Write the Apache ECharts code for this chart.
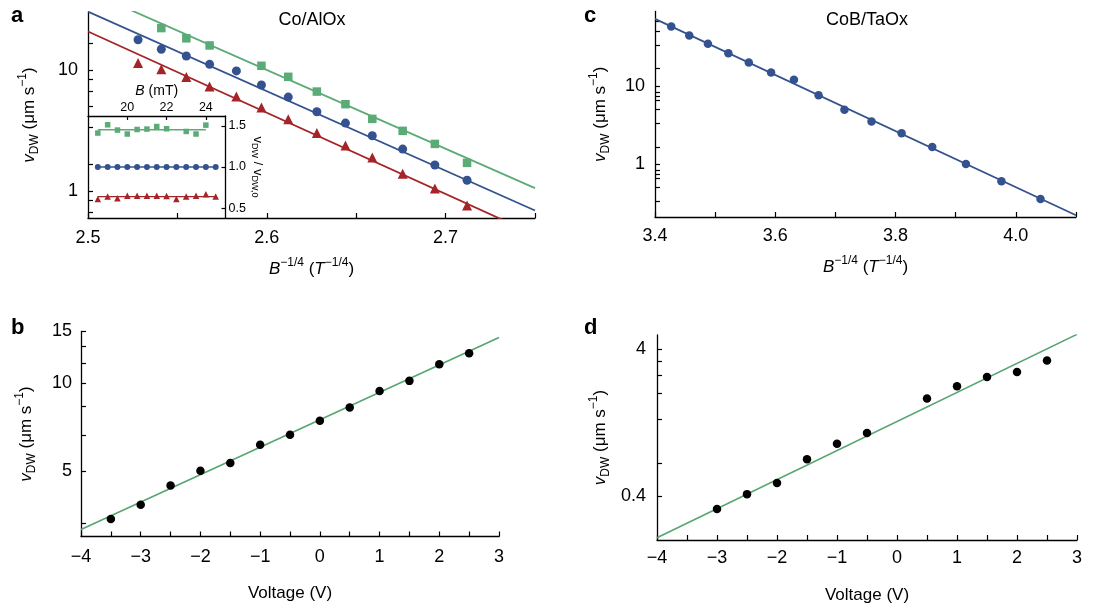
<!DOCTYPE html>
<html><head><meta charset="utf-8">
<script src="https://cdn.jsdelivr.net/npm/echarts@6/dist/echarts.min.js"></script>
<style>html,body{margin:0;padding:0;background:#fff}#c{width:1115px;height:610px}</style>
</head><body><div id="c"></div><script>
// ---------- Panel a : Co/AlOx (x = B^-1/4, y = v_DW, log) ----------
const aX       = [2.528, 2.541, 2.555, 2.568, 2.583, 2.597, 2.612, 2.628, 2.644, 2.659, 2.676, 2.694, 2.712];
const aBlue    = [17.7, 14.8, 13.0, 11.1, 9.8, 7.5, 5.96, 4.51, 3.64, 2.86, 2.22, 1.64, 1.23];
const aGreenX  = [2.541, 2.555, 2.568, 2.597, 2.612, 2.628, 2.644, 2.659, 2.676, 2.694, 2.712];
const aGreen   = [22.1, 18.2, 15.9, 10.8, 8.76, 6.62, 5.21, 3.94, 3.14, 2.45, 1.71];
const aRed     = [11.4, 10.1, 8.71, 7.28, 6.03, 4.89, 3.92, 3.01, 2.38, 1.89, 1.39, 1.05, 0.761];
const aFitX    = [2.5, 2.75];
const aFitBlue = [30.2, 0.692];
const aFitGreen= [44.5, 1.058];
const aFitRed  = [20.7, 0.438];
const aXTicks  = [2.5, 2.55, 2.6, 2.65, 2.7, 2.75];
const aXLabels = [2.5, 2.6, 2.7];
const aYTicks  = [0.6667, 0.8333, 1, 1.6667, 3.3333, 5, 6.6667, 8.3333, 10, 16.667];
const aYLabels = [1, 10];

// ---------- Inset of a : v_DW / v_DW,0 versus B (mT) ----------
const insB       = [18.5, 19, 19.5, 20, 20.5, 21, 21.5, 22, 22.5, 23, 23.5, 24, 24.5];
const insGreenB  = [18.5, 19, 19.5, 20, 20.5, 21, 21.5, 22, 23, 23.5, 24];
const insGreen   = [1.413, 1.513, 1.449, 1.401, 1.456, 1.461, 1.492, 1.465, 1.432, 1.401, 1.509];
const insBlue    = [1, 1, 1, 1, 1, 1, 1, 1, 1, 1, 1, 1, 1];
const insRed     = [0.612, 0.640, 0.621, 0.652, 0.652, 0.652, 0.652, 0.648, 0.612, 0.640, 0.652, 0.669, 0.640];
const insFitGreenB = [18.5, 24];   const insFitGreen = [1.453, 1.453];
const insFitB      = [18.5, 24.5]; const insFitBlue  = [1.0, 1.0];
const insFitRed    = [0.640, 0.640];
const insXTicks  = [20, 22, 24];
const insYTicks  = [0.5, 1.0, 1.5];

// ---------- Panel c : CoB/TaOx ----------
const cX     = [3.427, 3.457, 3.488, 3.522, 3.556, 3.593, 3.631, 3.672, 3.715, 3.760, 3.810, 3.861, 3.917, 3.976, 4.041];
const cBlue  = [57.7, 44.2, 34.7, 26.3, 20.0, 14.9, 12.0, 7.63, 4.96, 3.52, 2.49, 1.65, 1.0, 0.601, 0.357];
const cFitX  = [3.4, 4.1];
const cFit   = [72.3, 0.221];
const cXTicks  = [3.4, 3.5, 3.6, 3.7, 3.8, 3.9, 4.0, 4.1];
const cXLabels = [3.4, 3.6, 3.8, 4.0];
const cYTicks  = [0.3333, 0.5, 0.6667, 0.75, 0.8333, 1, 1.6667, 3.3333, 5, 6.6667, 7.5, 8.3333, 10, 16.667, 33.333, 50, 68];
const cYLabels = [1, 10];

// ---------- Panel b : voltage, Co/AlOx ----------
const bV     = [-3.5, -3, -2.5, -2, -1.5, -1, -0.5, 0, 0.5, 1, 1.5, 2, 2.5];
const bVdw   = [3.44, 3.85, 4.48, 5.03, 5.34, 6.17, 6.67, 7.44, 8.26, 9.41, 10.18, 11.6, 12.65];
const bFitV  = [-4, 3];
const bFit   = [3.17, 14.3];
const bYTicks  = [3.3333, 5, 6.6667, 8.3333, 10, 11.667, 13.333, 15];
const bYLabels = [5, 10, 15];

// ---------- Panel d : voltage, CoB/TaOx ----------
const dV     = [-3, -2.5, -2, -1.5, -1, -0.5, 0.5, 1, 1.5, 2, 2.5];
const dVdw   = [0.325, 0.411, 0.49, 0.711, 0.905, 1.075, 1.845, 2.24, 2.59, 2.80, 3.35];
const dFitV  = [-4, 3];
const dFit   = [0.207, 5.05];
const dYTicks  = [0.4, 0.6667, 1.3333, 2, 2.6667, 3.3333, 4];
const dYLabels = [0.4, 4];

const vXTicks  = [-4, -3.5, -3, -2.5, -2, -1.5, -1, -0.5, 0, 0.5, 1, 1.5, 2, 2.5, 3];
const vXLabels = [-4, -3, -2, -1, 0, 1, 2, 3];

// ---------- styling ----------
const FONT = '"Liberation Sans", Arial, Helvetica, sans-serif';
const BLUE = '#34528f', GREEN = '#5aab76', RED = '#a52428', LGREEN = '#56a572', INK = '#000';

const pairs = (xs, ys) => xs.map((x, i) => [x, ys[i]]);
const fmt1 = v => (Math.round(v * 10) / 10).toFixed(1);
const fmtInt = v => { const r = Math.round(v); return r < 0 ? '\u2212' + (-r) : String(r); };
const fmtLog = v => String(parseFloat(Number(v).toPrecision(3)));

function rich(fs, sfs, lh) {
  const base = {fontFamily: FONT, color: '#000'};
  return {
    i:   Object.assign({fontSize: fs, fontStyle: 'italic', lineHeight: lh}, base),
    sub: Object.assign({fontSize: sfs, verticalAlign: 'bottom', lineHeight: Math.round(sfs * 1.15)}, base),
    sup: Object.assign({fontSize: sfs, verticalAlign: 'top', lineHeight: Math.round(sfs * 1.15)}, base)
  };
}
function nameStyle(fs, sfs, lh) {
  return {fontSize: fs, fontFamily: FONT, color: '#000', lineHeight: lh, rich: rich(fs, sfs, lh)};
}
const axLine = {show: true, onZero: false, lineStyle: {color: INK, width: 1.3}};
const tickStyle = {color: INK, width: 1.2};
const TICKFS = 18;

function xAx(gi, min, max, ticks, labels, fmt, margin, name, nameGap) {
  return {
    type: 'value', gridIndex: gi, min, max, position: 'bottom',
    axisLine: axLine,
    axisTick: {show: true, inside: true, length: 5, customValues: ticks, lineStyle: tickStyle},
    axisLabel: {customValues: labels, formatter: fmt, fontSize: TICKFS, fontFamily: FONT, color: '#000', margin},
    splitLine: {show: false},
    name, nameLocation: 'middle', nameGap, nameTextStyle: nameStyle(17, 12, 24)
  };
}
function yLog(gi, min, max, ticks, labels, margin, nameGap) {
  return {
    type: 'log', logBase: 10, gridIndex: gi, min, max, position: 'left',
    axisLine: axLine,
    axisTick: {show: true, inside: true, length: 5, customValues: ticks, lineStyle: tickStyle},
    minorTick: {show: false},
    axisLabel: {customValues: labels, formatter: fmtLog, fontSize: TICKFS, fontFamily: FONT, color: '#000', margin},
    splitLine: {show: false},
    name: '{i|v}{sub|DW} (\u03bcm s{sup|\u22121})', nameLocation: 'middle', nameGap,
    nameTextStyle: nameStyle(17, 12, 24)
  };
}

const xNameB = '{i|B}{sup|\u22121/4} ({i|T}{sup|\u22121/4})';
const solid = c => ({color: c, opacity: 1});

const option = {
  animation: false,
  backgroundColor: '#fff',
  title: [
    {text: 'a', left: 11, top: 5, padding: 0, textStyle: {fontSize: 22, fontWeight: 'bold', fontFamily: FONT, color: '#000'}},
    {text: 'b', left: 11, top: 317, padding: 0, textStyle: {fontSize: 22, fontWeight: 'bold', fontFamily: FONT, color: '#000'}},
    {text: 'c', left: 584, top: 5, padding: 0, textStyle: {fontSize: 22, fontWeight: 'bold', fontFamily: FONT, color: '#000'}},
    {text: 'd', left: 584, top: 317, padding: 0, textStyle: {fontSize: 22, fontWeight: 'bold', fontFamily: FONT, color: '#000'}},
    {text: 'Co/AlOx', left: 312, top: 11, textAlign: 'center', padding: 0, textStyle: {fontSize: 18, fontWeight: 'normal', fontFamily: FONT, color: '#000'}},
    {text: 'CoB/TaOx', left: 867, top: 11, textAlign: 'center', padding: 0, textStyle: {fontSize: 18, fontWeight: 'normal', fontFamily: FONT, color: '#000'}}
  ],
  grid: [
    {left: 88, top: 12, width: 447, height: 206, outerBoundsMode: 'none', containLabel: false},
    {left: 88, top: 116, width: 137.5, height: 102, outerBoundsMode: 'none', containLabel: false},
    {left: 655, top: 11.5, width: 421, height: 205.5, outerBoundsMode: 'none', containLabel: false},
    {left: 81, top: 331.5, width: 418, height: 205, outerBoundsMode: 'none', containLabel: false},
    {left: 657, top: 335, width: 420, height: 205, outerBoundsMode: 'none', containLabel: false}
  ],
  xAxis: [
    xAx(0, 2.5, 2.75, aXTicks, aXLabels, fmt1, 11, xNameB, 39),
    {
      type: 'value', gridIndex: 1, min: 18, max: 25, position: 'top',
      axisLine: axLine,
      axisTick: {show: true, inside: true, length: 4, customValues: insXTicks, lineStyle: tickStyle},
      axisLabel: {customValues: insXTicks, fontSize: 12.5, fontFamily: FONT, color: '#000', margin: 2},
      splitLine: {show: false},
      name: '{i|B} (mT)', nameLocation: 'middle', nameGap: 17, nameTextStyle: nameStyle(14, 10, 16)
    },
    xAx(2, 3.4, 4.1, cXTicks, cXLabels, fmt1, 10, xNameB, 38),
    xAx(3, -4, 3, vXTicks, vXLabels, fmtInt, 12, 'Voltage (V)', 45),
    xAx(4, -4, 3, vXTicks, vXLabels, fmtInt, 9, 'Voltage (V)', 43)
  ],
  yAxis: [
    yLog(0, 0.6, 30, aYTicks, aYLabels, 10, 47),
    {
      type: 'value', gridIndex: 1, min: 0.38, max: 1.62, position: 'right',
      axisLine: axLine,
      axisTick: {show: true, inside: true, length: 4, customValues: insYTicks, lineStyle: tickStyle},
      axisLabel: {customValues: insYTicks, formatter: fmt1, fontSize: 12.5, fontFamily: FONT, color: '#000', margin: 3},
      splitLine: {show: false},
      name: 'v{sub|DW} / v{sub|DW,0}', nameLocation: 'middle', nameRotate: -90, nameGap: 22,
      nameTextStyle: nameStyle(13, 9, 16)
    },
    yLog(2, 0.21, 90, cYTicks, cYLabels, 10, 43),
    yLog(3, 3, 15, bYTicks, bYLabels, 9, 43),
    yLog(4, 0.2, 5, dYTicks, dYLabels, 11, 45)
  ],
  series: [
    // panel a fits
    {type: 'line', xAxisIndex: 0, yAxisIndex: 0, data: pairs(aFitX, aFitGreen), symbol: 'none', lineStyle: {color: GREEN, width: 1.8}, silent: true, z: 2},
    {type: 'line', xAxisIndex: 0, yAxisIndex: 0, data: pairs(aFitX, aFitBlue), symbol: 'none', lineStyle: {color: BLUE, width: 1.8}, silent: true, z: 2},
    {type: 'line', xAxisIndex: 0, yAxisIndex: 0, data: pairs(aFitX, aFitRed), symbol: 'none', lineStyle: {color: RED, width: 1.8}, silent: true, z: 2},
    // panel a data
    {type: 'scatter', xAxisIndex: 0, yAxisIndex: 0, data: pairs(aGreenX, aGreen), symbol: 'rect', symbolSize: 8.5, itemStyle: solid(GREEN), z: 3},
    {type: 'scatter', xAxisIndex: 0, yAxisIndex: 0, data: pairs(aX, aBlue), symbol: 'circle', symbolSize: 9, itemStyle: solid(BLUE), z: 3},
    {type: 'scatter', xAxisIndex: 0, yAxisIndex: 0, data: pairs(aX, aRed), symbol: 'triangle', symbolSize: 10, itemStyle: solid(RED), z: 3},
    // inset
    {type: 'line', xAxisIndex: 1, yAxisIndex: 1, data: pairs(insFitGreenB, insFitGreen), symbol: 'none', lineStyle: {color: GREEN, width: 1.3}, silent: true, z: 2},
    {type: 'line', xAxisIndex: 1, yAxisIndex: 1, data: pairs(insFitB, insFitBlue), symbol: 'none', lineStyle: {color: BLUE, width: 1.3}, silent: true, z: 2},
    {type: 'line', xAxisIndex: 1, yAxisIndex: 1, data: pairs(insFitB, insFitRed), symbol: 'none', lineStyle: {color: RED, width: 1.3}, silent: true, z: 2},
    {type: 'scatter', xAxisIndex: 1, yAxisIndex: 1, data: pairs(insGreenB, insGreen), symbol: 'rect', symbolSize: 5.5, itemStyle: solid(GREEN), z: 3},
    {type: 'scatter', xAxisIndex: 1, yAxisIndex: 1, data: pairs(insB, insBlue), symbol: 'circle', symbolSize: 6, itemStyle: solid(BLUE), z: 3},
    {type: 'scatter', xAxisIndex: 1, yAxisIndex: 1, data: pairs(insB, insRed), symbol: 'triangle', symbolSize: 6.5, itemStyle: solid(RED), z: 3},
    // panel c
    {type: 'line', xAxisIndex: 2, yAxisIndex: 2, data: pairs(cFitX, cFit), symbol: 'none', lineStyle: {color: BLUE, width: 1.8}, silent: true, z: 2},
    {type: 'scatter', xAxisIndex: 2, yAxisIndex: 2, data: pairs(cX, cBlue), symbol: 'circle', symbolSize: 8.5, itemStyle: solid(BLUE), z: 3},
    // panel b
    {type: 'line', xAxisIndex: 3, yAxisIndex: 3, data: pairs(bFitV, bFit), symbol: 'none', lineStyle: {color: LGREEN, width: 1.6}, silent: true, z: 2},
    {type: 'scatter', xAxisIndex: 3, yAxisIndex: 3, data: pairs(bV, bVdw), symbol: 'circle', symbolSize: 8.5, itemStyle: solid('#000'), z: 3},
    // panel d
    {type: 'line', xAxisIndex: 4, yAxisIndex: 4, data: pairs(dFitV, dFit), symbol: 'none', lineStyle: {color: LGREEN, width: 1.6}, silent: true, z: 2},
    {type: 'scatter', xAxisIndex: 4, yAxisIndex: 4, data: pairs(dV, dVdw), symbol: 'circle', symbolSize: 8.5, itemStyle: solid('#000'), z: 3}
  ]
};

const chart = echarts.init(document.getElementById('c'), null, {renderer: 'canvas', width: 1115, height: 610});
chart.setOption(option);
</script></body></html>
